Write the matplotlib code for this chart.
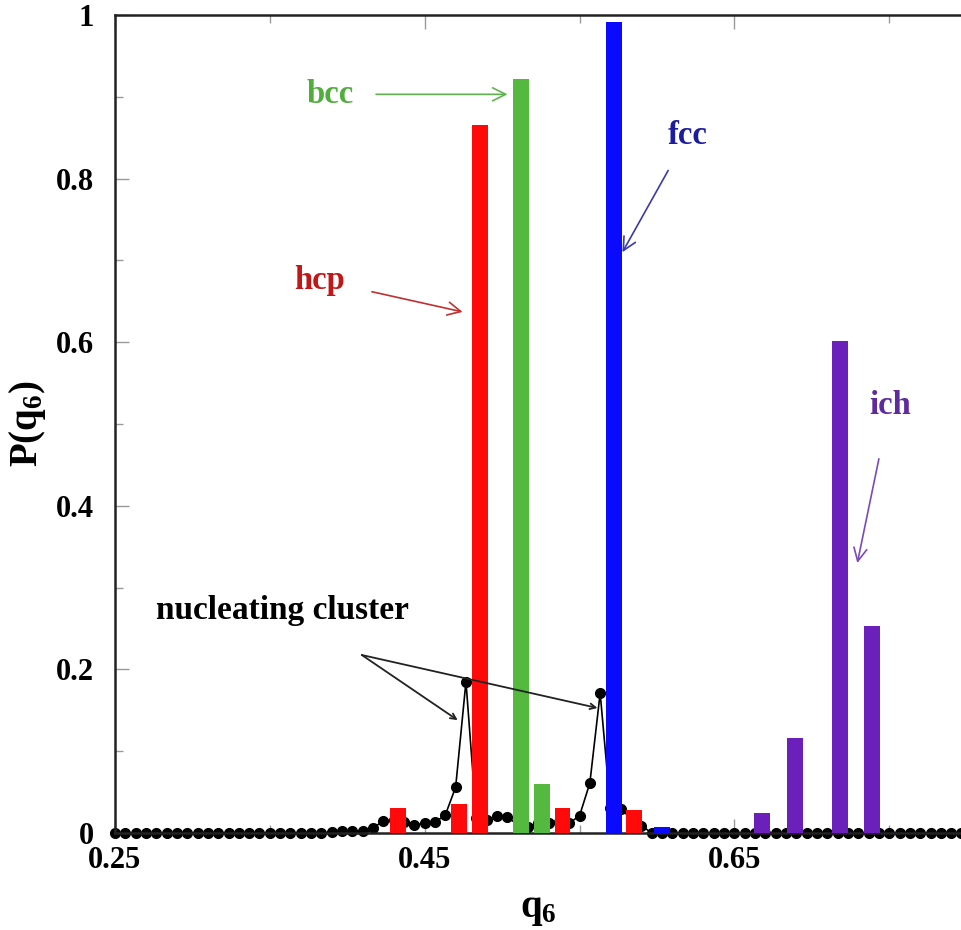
import numpy as np
import matplotlib
matplotlib.use("Agg")
import matplotlib.pyplot as plt

plt.rcParams['font.family'] = ['Liberation Serif', 'DejaVu Serif']
plt.rcParams['font.weight'] = 'bold'
plt.rcParams['axes.labelweight'] = 'bold'
plt.rcParams['mathtext.fontset'] = 'custom'
plt.rcParams['mathtext.rm'] = 'Liberation Serif:bold'
plt.rcParams['mathtext.it'] = 'Liberation Serif:bold'
plt.rcParams['mathtext.bf'] = 'Liberation Serif:bold'

# q6 distribution of the nucleating cluster (bin width 1/150, starting at 0.25)
q_start = 0.25
q_step = 1 / 150
cluster_p = [
    0, 0, 0, 0, 0, 0, 0, 0, 0, 0,
    0, 0, 0, 0, 0, 0, 0, 0, 0, 0,
    0, 0.001, 0.002, 0.002, 0.003, 0.006, 0.015, 0.016, 0.013, 0.010,
    0.012, 0.013, 0.022, 0.056, 0.185, 0.018, 0.016, 0.021, 0.020, 0.010,
    0.007, 0.012, 0.012, 0.013, 0.012, 0.021, 0.061, 0.171, 0.030, 0.029,
    0.018, 0.009, 0, 0, 0, 0, 0, 0, 0, 0,
    0, 0, 0, 0, 0, 0, 0, 0, 0, 0,
    0, 0, 0, 0, 0, 0, 0, 0, 0, 0,
    0, 0, 0,
]

# reference crystal structures
hcp_q = [0.433, 0.472, 0.486, 0.539, 0.585]
hcp_p = [0.031, 0.036, 0.865, 0.031, 0.028]
bcc_q = [0.512, 0.526]
bcc_p = [0.922, 0.060]
fcc_q = [0.572, 0.6035]
fcc_p = [0.991, 0.007]
ich_q = [0.668, 0.689, 0.718, 0.739]
ich_p = [0.024, 0.116, 0.602, 0.253]

red = '#ff0a0a'
green = '#55b83f'
blue = '#0a0aff'
purple = '#6b20bb'
bar_w = 0.0103

fig = plt.figure(figsize=(9.62, 9.30), dpi=100)
ax = fig.add_axes([0.1195, 0.1043, 0.8805, 0.8796])

q = q_start + q_step * np.arange(len(cluster_p))
ax.plot(q, cluster_p, '-o', color='black', lw=1.2, ms=7, zorder=2, clip_on=False)

ax.bar(hcp_q, hcp_p, width=bar_w, color=red, zorder=3)
ax.bar(bcc_q, bcc_p, width=bar_w, color=green, zorder=3)
ax.bar(fcc_q, fcc_p, width=bar_w, color=blue, zorder=3)
ax.bar(ich_q, ich_p, width=bar_w, color=purple, zorder=3)

ax.set_xlim(0.25, 0.797)
ax.set_ylim(0, 1)
ax.set_xticks([0.25, 0.45, 0.65])
ax.set_xticklabels(['0.25', '0.45', '0.65'])
ax.set_xticks([0.35, 0.55, 0.75], minor=True)
ax.set_yticks([0, 0.2, 0.4, 0.6, 0.8, 1])
ax.set_yticklabels(['0', '0.2', '0.4', '0.6', '0.8', '1'])
ax.set_yticks([0.1, 0.3, 0.5, 0.7, 0.9], minor=True)
ax.tick_params(which='both', direction='in', top=True, right=False,
               labelsize=22, color='#999999', width=1)
ax.tick_params(which='major', length=10)
ax.tick_params(which='minor', length=6)
ax.tick_params(axis='x', which='major', pad=9)
ax.tick_params(axis='y', which='major', pad=15)
ax.spines['right'].set_visible(False)
for side in ['left', 'top', 'bottom']:
    ax.spines[side].set_linewidth(1.8)
    ax.spines[side].set_color('#222222')

ax.set_xlabel('q$_6$', fontsize=28, fontweight='bold', labelpad=12)
ax.set_ylabel('P(q$_6$)', fontsize=28, fontweight='bold', labelpad=6)

ann = dict(fontsize=23.5, fontweight='bold', ha='center', va='center')
ax.annotate('bcc', xy=(0.5035, 0.903), xytext=(0.389, 0.903), color='#4fae3c',
            arrowprops=dict(arrowstyle='->', color='#5fb44f', lw=1.2,
                            shrinkA=14, shrinkB=0), **ann)
ax.annotate('hcp', xy=(0.4745, 0.637), xytext=(0.382, 0.676), color='#c01818',
            arrowprops=dict(arrowstyle='->', color='#c03030', lw=1.2,
                            shrinkA=18, shrinkB=0), **ann)
ax.annotate('fcc', xy=(0.5777, 0.710), xytext=(0.620, 0.853), color='#1c1ca0',
            arrowprops=dict(arrowstyle='->', color='#3a3aa8', lw=1.2,
                            shrinkA=14, shrinkB=0), **ann)
ax.annotate('ich', xy=(0.7294, 0.330), xytext=(0.7505, 0.523), color='#5e2a9e',
            arrowprops=dict(arrowstyle='->', color='#7a4ab8', lw=1.2,
                            shrinkA=26, shrinkB=0), **ann)

ax.text(0.358, 0.272, 'nucleating cluster', fontsize=24, fontweight='bold',
        ha='center', va='center')
for head in [(0.4713, 0.138), (0.5616, 0.1528)]:
    ax.annotate('', xy=head, xytext=(0.4094, 0.2176),
                arrowprops=dict(arrowstyle='->', color='#222222', lw=1.3,
                                shrinkA=0, shrinkB=0))

fig.savefig('out.png', dpi=100, facecolor='white')
